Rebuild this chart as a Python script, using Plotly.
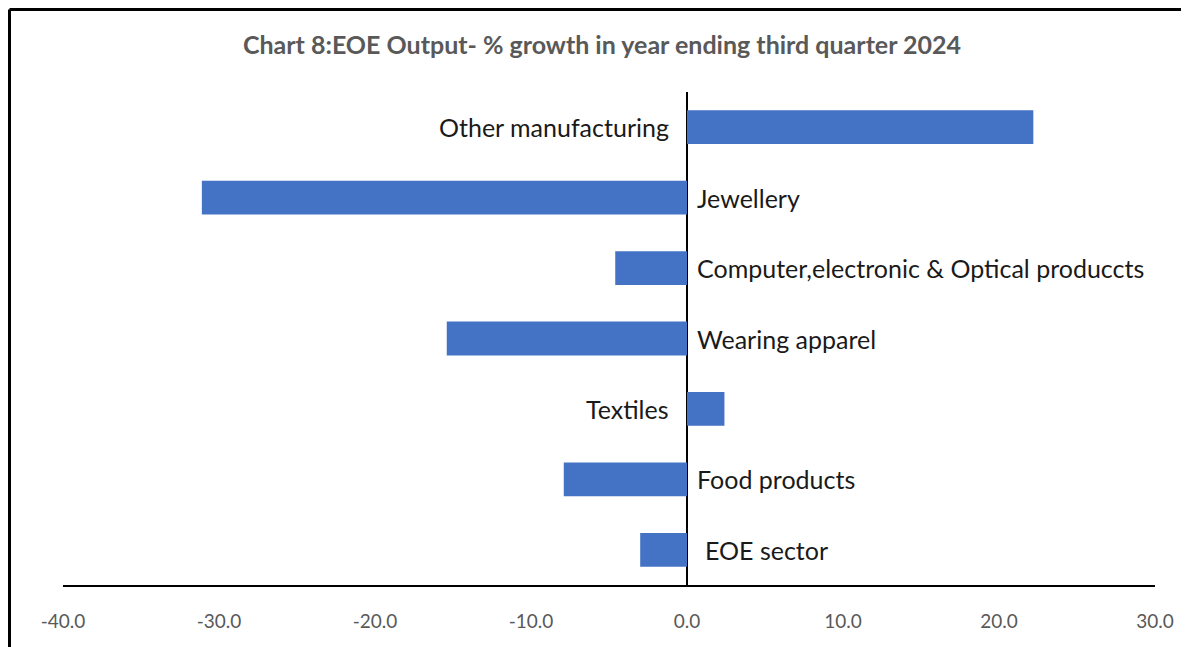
import plotly.graph_objects as go

categories = ["EOE sector", "Food products", "Textiles", "Wearing apparel",
              "Computer,electronic & Optical produccts", "Jewellery", "Other manufacturing"]
growth = [-3.0, -7.9, 2.4, -15.4, -4.6, -31.1, 22.2]
tick_vals = [-40, -30, -20, -10, 0, 10, 20, 30]
tick_text = ["-40.0", "-30.0", "-20.0", "-10.0", "0.0", "10.0", "20.0", "30.0"]
title_text = "Chart 8:EOE Output- % growth in year ending third quarter 2024"

FONT = "Lato, 'Open Sans', sans-serif"

fig = go.Figure()
fig.add_trace(go.Bar(
    y=categories, x=growth, orientation="h",
    marker=dict(color="#4472C4", line=dict(width=0)),
    width=0.48, hoverinfo="x+y"
))

annotations = []
for c, v in zip(categories, growth):
    if v >= 0:
        annotations.append(dict(x=0, y=c, xref="x", yref="y", text=c, showarrow=False,
                                xanchor="right", xshift=-16,
                                font=dict(family=FONT, size=25, color="#1a1a1a")))
    else:
        shift = 16 if c == "EOE sector" else 8
        annotations.append(dict(x=0, y=c, xref="x", yref="y", text=c, showarrow=False,
                                xanchor="left", xshift=shift,
                                font=dict(family=FONT, size=25, color="#1a1a1a")))

fig.update_layout(
    width=1189, height=647,
    margin=dict(l=55, r=42, t=84, b=70),
    paper_bgcolor="white", plot_bgcolor="white",
    showlegend=False,
    title=dict(text="<b>" + title_text + "</b>", x=594 / 1189, xref="container", xanchor="center",
               y=1 - 37 / 647, yref="container", yanchor="middle",
               font=dict(family=FONT, size=25, color="#595959")),
    annotations=annotations,
    xaxis=dict(range=[-40, 30], tickvals=tick_vals, ticktext=tick_text,
               showgrid=False, zeroline=True, zerolinecolor="black", zerolinewidth=2,
               showline=True, linecolor="black", linewidth=2, ticks="",
               ticklabelstandoff=18,
               tickfont=dict(family=FONT, size=19, color="#595959"), fixedrange=True),
    yaxis=dict(showticklabels=False, showgrid=False, zeroline=False, showline=False,
               ticks="", range=[-0.5, 6.5], fixedrange=True),
    shapes=[
        dict(type="line", xref="paper", yref="paper", x0=-0.04899, x1=-0.04899,
             y0=1.1673, y1=-0.3, line=dict(color="black", width=3)),
        dict(type="line", xref="paper", yref="paper", x0=-0.04899, x1=1.1,
             y0=1.1673, y1=1.1673, line=dict(color="black", width=3)),
    ],
)

fig.write_html("out.html")
